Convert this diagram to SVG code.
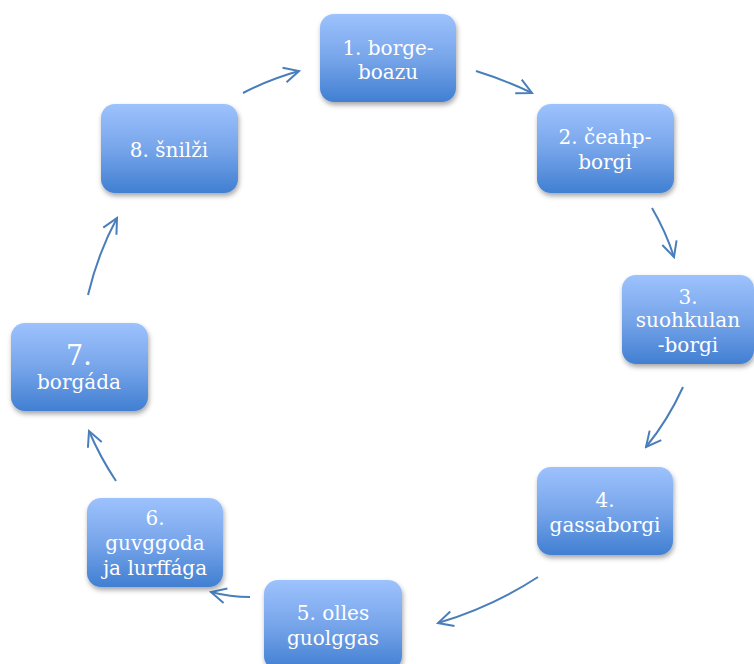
<svg xmlns="http://www.w3.org/2000/svg" width="754" height="664" viewBox="0 0 754 664">
<defs>
<linearGradient id="g" x1="0" y1="0" x2="0" y2="1">
<stop offset="0" stop-color="#9dc2fd"/>
<stop offset="0.5" stop-color="#77a5ea"/>
<stop offset="1" stop-color="#417fd2"/>
</linearGradient>
<filter id="sh" x="-10%" y="-10%" width="125%" height="130%">
<feDropShadow dx="1" dy="3" stdDeviation="2.5" flood-color="#000" flood-opacity="0.35"/>
</filter>
<marker id="ah" viewBox="0 0 18 18" refX="16" refY="9" markerWidth="18" markerHeight="18" markerUnits="userSpaceOnUse" orient="auto">
<path d="M1,1.5 L16,9 L1,16.5" fill="none" stroke="#4a7ebb" stroke-width="2"/>
</marker>
<style>
.box{fill:url(#g);filter:url(#sh)}
.t{font-family:"DejaVu Serif","Liberation Serif",serif;font-size:20px;fill:#fff;text-anchor:middle}
.c{fill:none;stroke:#4a7ebb;stroke-width:2;marker-end:url(#ah)}
</style>
</defs>
<rect width="754" height="664" fill="#fff"/>
<g id="connectors">
<path class="c" d="M476,71 Q505,80 532,93"/>
<path class="c" d="M652,208 Q666,232 674,257"/>
<path class="c" d="M683,387 Q668,420 646,447"/>
<path class="c" d="M538,577 Q492,607 438,623"/>
<path class="c" d="M250,597 Q230,597 211,592"/>
<path class="c" d="M116,481 Q100,457 89,431"/>
<path class="c" d="M88,295 Q98,253 117,218"/>
<path class="c" d="M243,93 Q270,79 299,71"/>
</g>
<g id="n1"><rect class="box" x="320" y="14" width="136" height="88" rx="14"/>
<text class="t" x="388" y="55">1. borge-</text><text class="t" x="388" y="79">boazu</text></g>
<g id="n2"><rect class="box" x="537" y="104" width="137" height="89" rx="14"/>
<text class="t" x="605" y="144">2. čeahp-</text><text class="t" x="605" y="169">borgi</text></g>
<g id="n3"><rect class="box" x="622" y="275" width="132" height="89" rx="14"/>
<text class="t" x="688" y="304">3.</text><text class="t" x="688" y="327">suohkulan</text><text class="t" x="688" y="352">-borgi</text></g>
<g id="n4"><rect class="box" x="537" y="467" width="136" height="88" rx="14"/>
<text class="t" x="605" y="507">4.</text><text class="t" x="605" y="532">gassaborgi</text></g>
<g id="n5"><rect class="box" x="264" y="580" width="138" height="90" rx="14"/>
<text class="t" x="333" y="620">5. olles</text><text class="t" x="333" y="645">guolggas</text></g>
<g id="n6"><rect class="box" x="87" y="498" width="136" height="89" rx="14"/>
<text class="t" x="155" y="525">6.</text><text class="t" x="155" y="550">guvggoda</text><text class="t" x="155" y="575">ja lurffága</text></g>
<g id="n7"><rect class="box" x="11" y="323" width="137" height="88" rx="14"/>
<text class="t" x="79" y="365" style="font-size:27px">7.</text><text class="t" x="79" y="389">borgáda</text></g>
<g id="n8"><rect class="box" x="101" y="104" width="137" height="89" rx="14"/>
<text class="t" x="169" y="157">8. šnilži</text></g>
</svg>
